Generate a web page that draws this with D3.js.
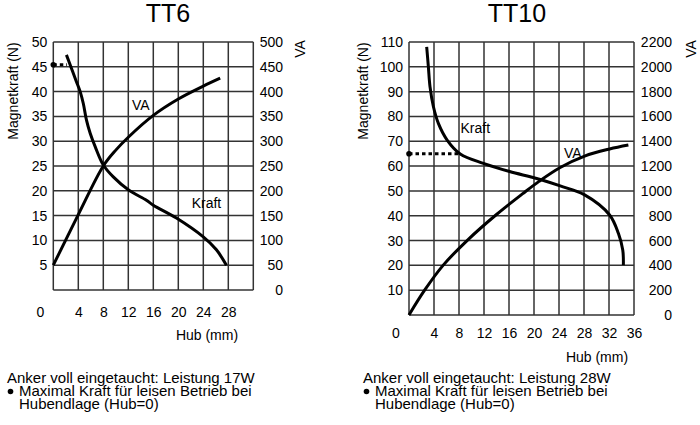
<!DOCTYPE html>
<html>
<head>
<meta charset="utf-8">
<script src="https://cdn.jsdelivr.net/npm/d3@7"></script>
<style>
  body { margin: 0; background: #fff; }
  svg { font-family: "Liberation Sans", Arial, Helvetica, sans-serif; }
</style>
</head>
<body>
<svg id="chart" width="700" height="425"></svg>
<script>
// ---- data ----
// TT6
var tt6KraftHub = [2.1, 2.9, 3.7, 4.3, 4.8, 5.3, 5.9, 6.7, 8.0, 9.6, 12, 14.9, 16, 19.7, 24, 26.1, 27.7];
var tt6Kraft    = [47.4, 44.7, 42.0, 40.0, 37.6, 34.3, 31.6, 28.9, 25.2, 22.8, 20.2, 18.1, 17.1, 14.5, 10.7, 8.1, 5];
var tt6VaHub    = [0, 4, 8, 10, 12, 16, 20, 24, 26.7];
var tt6Va       = [50, 152, 250, 282, 308, 352, 385, 411, 427];
var tt6Quiet    = [[0, 45.4], [2.2, 45.4]];
// TT10
var tt10KraftHub = [2.83, 3.1, 3.36, 3.9, 4.7, 6.1, 8.2, 11.9, 16.1, 19.4, 21, 24.2, 28.1, 32.1, 33.5, 34.2, 34.3];
var tt10Kraft    = [108, 100, 92, 84, 77.2, 70.5, 64.9, 61.1, 57.8, 55.7, 54.6, 52, 48.4, 40.3, 32.9, 26.2, 20.1];
var tt10VaHub    = [0, 2.5, 5.45, 9.5, 14, 18.2, 20.8, 24.2, 28.1, 32.1, 35.1];
var tt10Va       = [0, 200, 400, 610, 810, 978, 1077, 1189, 1281, 1338, 1370];
var tt10Quiet    = [[0, 65], [8.2, 65]];

var tt6XTicks = [0, 4, 8, 12, 16, 20, 24, 28];
var tt10XTicks = [0, 4, 8, 12, 16, 20, 24, 28, 32, 36];
var tt6LeftTicks = d3.range(5, 51, 5);
var tt6RightTicks = d3.range(0, 501, 50);
var tt10LeftTicks = d3.range(10, 111, 10);
var tt10RightTicks = d3.range(0, 2201, 200);

var notes6 = ["Anker voll eingetaucht: Leistung 17W", "Maximal Kraft für leisen Betrieb bei", "Hubendlage (Hub=0)"];
var notes10 = ["Anker voll eingetaucht: Leistung 28W", "Maximal Kraft für leisen Betrieb bei", "Hubendlage (Hub=0)"];

// ---- layout ----
var charts = [
  { title: "TT6", cx: 168, x0: 53.3, x1: 253.3, y0: 290, y1: 42,
    xMax: 32, leftMax: 50, rightMax: 500,
    xTicks: tt6XTicks, leftTicks: tt6LeftTicks, rightTicks: tt6RightTicks,
    xTickY: 317, rightLabelX: 283, hubX: 207, hubY: 340, magX: 13, vaX: 300,
    kraftHub: tt6KraftHub, kraft: tt6Kraft, vaHub: tt6VaHub, va: tt6Va, quiet: tt6Quiet,
    vaLabel: [14, 36.3], kraftLabel: [24.5, 16.6],
    notes: notes6, noteX: 7 },
  { title: "TT10", cx: 517, x0: 409, x1: 634, y0: 315, y1: 42,
    xMax: 36, leftMax: 110, rightMax: 2200,
    xTicks: tt10XTicks, leftTicks: tt10LeftTicks, rightTicks: tt10RightTicks,
    xTickY: 338, rightLabelX: 672, hubX: 597, hubY: 362, magX: 363, vaX: 691,
    kraftHub: tt10KraftHub, kraft: tt10Kraft, vaHub: tt10VaHub, va: tt10Va, quiet: tt10Quiet,
    vaLabel: [26.2, 63.4], kraftLabel: [10.6, 73.3],
    notes: notes10, noteX: 363 }
];

var svg = d3.select("#chart");

charts.forEach(function(c) {
  var x = d3.scaleLinear().domain([0, c.xMax]).range([c.x0, c.x1]);
  var yL = d3.scaleLinear().domain([0, c.leftMax]).range([c.y0, c.y1]);
  var yR = d3.scaleLinear().domain([0, c.rightMax]).range([c.y0, c.y1]);
  var g = svg.append("g");

  // title
  g.append("text").attr("x", c.cx).attr("y", 22)
    .attr("text-anchor", "middle").style("font-size", "25px").text(c.title);

  // grid
  g.append("g").selectAll("line").data(d3.range(0, c.xMax + 1, 4)).enter().append("line")
    .attr("x1", d => x(d)).attr("x2", d => x(d))
    .attr("y1", c.y0).attr("y2", c.y1)
    .attr("stroke", "#333").attr("stroke-width", 1.5);
  g.append("g").selectAll("line").data(c.rightTicks).enter().append("line")
    .attr("x1", c.x0).attr("x2", c.x1)
    .attr("y1", d => yR(d)).attr("y2", d => yR(d))
    .attr("stroke", "#333").attr("stroke-width", 1.5);

  // left axis
  g.append("g").attr("transform", "translate(" + c.x0 + ",0)")
    .call(d3.axisLeft(yL).tickValues(c.leftTicks).tickSize(0).tickPadding(6))
    .call(s => s.select(".domain").remove())
    .selectAll("text").style("font-size", "14px").attr("fill", "#000")
    .attr("font-family", null);

  // right axis
  var ra = g.append("g").attr("transform", "translate(" + c.rightLabelX + ",0)")
    .call(d3.axisRight(yR).tickValues(c.rightTicks).tickFormat(d3.format("d")).tickSize(0).tickPadding(0))
    .call(s => s.select(".domain").remove());
  ra.selectAll("text").style("font-size", "14px").attr("fill", "#000")
    .attr("text-anchor", "end").attr("font-family", null);

  // x axis
  var xa = g.append("g").attr("transform", "translate(0," + (c.xTickY - 10) + ")")
    .call(d3.axisBottom(x).tickValues(c.xTicks).tickSize(0).tickPadding(0))
    .call(s => s.select(".domain").remove());
  xa.selectAll("text").style("font-size", "14px").attr("fill", "#000")
    .attr("font-family", null).attr("dy", "0.71em");
  xa.selectAll(".tick").filter(d => d === 0)
    .attr("transform", "translate(" + (x(0) - 13) + ",0)");

  // axis titles
  g.append("text").attr("x", c.hubX).attr("y", c.hubY)
    .attr("text-anchor", "middle").style("font-size", "14px").text("Hub (mm)");
  g.append("text").attr("transform", "translate(" + c.magX + ",91) rotate(-90)")
    .attr("text-anchor", "middle").attr("dominant-baseline", "central")
    .style("font-size", "14px").text("Magnetkraft (N)");
  g.append("text").attr("transform", "translate(" + c.vaX + ",49) rotate(-90)")
    .attr("text-anchor", "middle").attr("dominant-baseline", "central")
    .style("font-size", "14px").text("VA");

  // curves
  var kraftLine = d3.line().x(d => x(d[0])).y(d => yL(d[1])).curve(d3.curveCatmullRom.alpha(0.5));
  var vaLine = d3.line().x(d => x(d[0])).y(d => yR(d[1])).curve(d3.curveCatmullRom.alpha(0.5));
  g.append("path").datum(d3.zip(c.kraftHub, c.kraft)).attr("d", kraftLine)
    .attr("fill", "none").attr("stroke", "#000").attr("stroke-width", 3);
  g.append("path").datum(d3.zip(c.vaHub, c.va)).attr("d", vaLine)
    .attr("fill", "none").attr("stroke", "#000").attr("stroke-width", 3);

  // quiet operation marker
  g.append("path").datum(c.quiet)
    .attr("d", d3.line().x(d => x(d[0])).y(d => yL(d[1])))
    .attr("stroke", "#000").attr("stroke-width", 3).attr("stroke-dasharray", "3.5,3");
  g.append("circle").attr("cx", x(c.quiet[0][0])).attr("cy", yL(c.quiet[0][1]))
    .attr("r", 2.8).attr("fill", "#000");

  // curve labels
  g.append("text").attr("x", x(c.vaLabel[0])).attr("y", yL(c.vaLabel[1]))
    .attr("text-anchor", "middle").style("font-size", "14px").text("VA");
  g.append("text").attr("x", x(c.kraftLabel[0])).attr("y", yL(c.kraftLabel[1]))
    .attr("text-anchor", "middle").style("font-size", "14px").text("Kraft");

  // notes
  g.append("text").attr("x", c.noteX).attr("y", 383).style("font-size", "15px").text(c.notes[0]);
  g.append("circle").attr("cx", c.noteX + 3.5).attr("cy", 391.5).attr("r", 2.8).attr("fill", "#000");
  g.append("text").attr("x", c.noteX + 12).attr("y", 396).style("font-size", "15px").text(c.notes[1]);
  g.append("text").attr("x", c.noteX + 12).attr("y", 409).style("font-size", "15px").text(c.notes[2]);
});
</script>
</body>
</html>
